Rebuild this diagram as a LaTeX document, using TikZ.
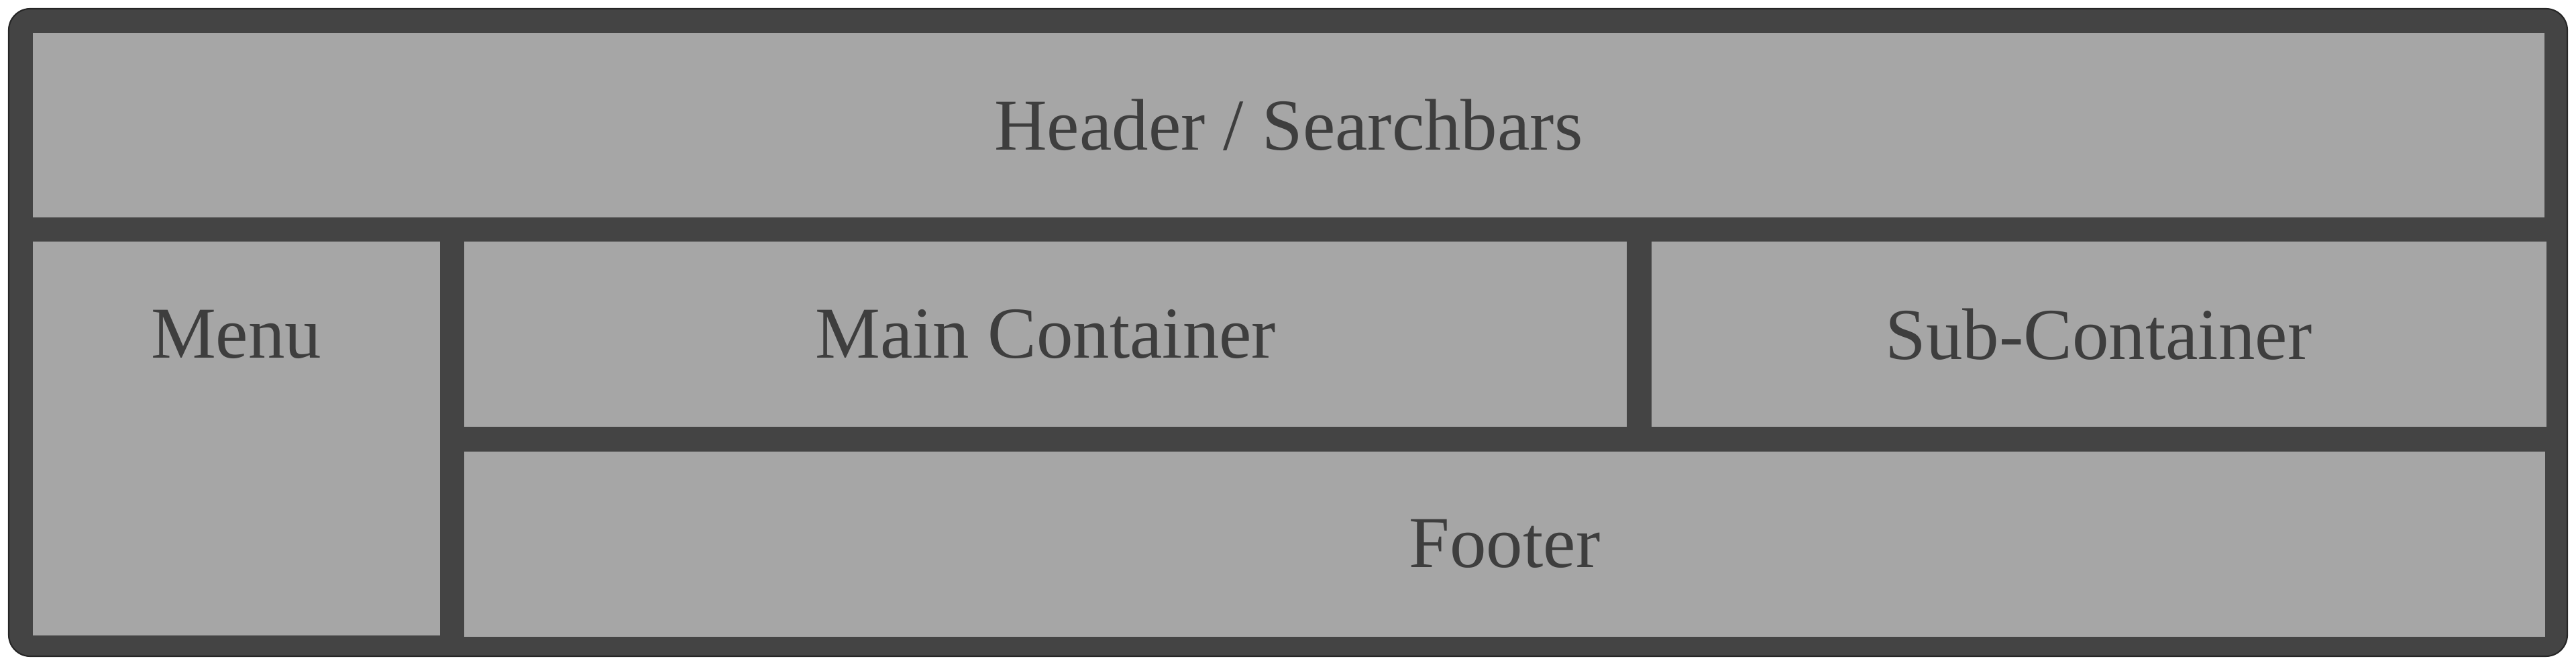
\documentclass[tikz,border=0pt]{standalone}
\usepackage{fontspec}
\setmainfont{Liberation Serif}
\usepackage{xcolor}
\usepackage{tikz}
\usetikzlibrary{positioning}

\definecolor{framegray}{HTML}{444444}
\definecolor{panegray}{HTML}{A6A6A6}
\definecolor{inkgray}{HTML}{3E3E3E}

\tikzset{
  pane/.style={fill=panegray, draw=none, inner sep=0pt, anchor=north west},
  lbl/.style={text=inkgray, inner sep=0pt, font=\fontsize{31}{37}\selectfont},
}

\begin{document}
\begin{tikzpicture}
  \def\W{38.4}   % page width (cm)
  \def\H{9.94}   % page height
  \def\gap{0.35} % dark gutter between panes

  \useasboundingbox (0,0) rectangle (\W,-\H);

  % Outer frame
  \draw[fill=framegray, draw=black!85, line width=0.6pt, rounded corners=0.32cm]
    (0.13,-0.13) rectangle (\W-0.13,-\H+0.16);

  % Panes
  \node[pane, minimum width=37.44cm, minimum height=2.75cm] (header) at (0.48,-0.48) {};
  \node[pane, minimum width=6.07cm, minimum height=5.87cm,
        below=\gap cm of header.south west, anchor=north west] (menu) {};
  \node[pane, minimum width=17.33cm, minimum height=2.76cm,
        right=\gap cm of menu.north east, anchor=north west] (main) {};
  \node[pane, minimum width=13.34cm, minimum height=2.76cm,
        right=\gap cm of main.north east, anchor=north west] (sub) {};
  \node[pane, minimum width=31.02cm, minimum height=2.76cm,
        below=\gap cm of main.south west, anchor=north west] (footer) {};

  % Titles
  \node[lbl] (headertxt) at (header) {Header / Searchbars};
  \node[lbl] (menutxt)   at (menu |- main) {Menu};
  \node[lbl] (maintxt)   at (main) {Main Container};
  \node[lbl] (subtxt)    at (sub) {Sub-Container};
  \node[lbl] (footertxt) at (footer) {Footer};
\end{tikzpicture}
\end{document}
